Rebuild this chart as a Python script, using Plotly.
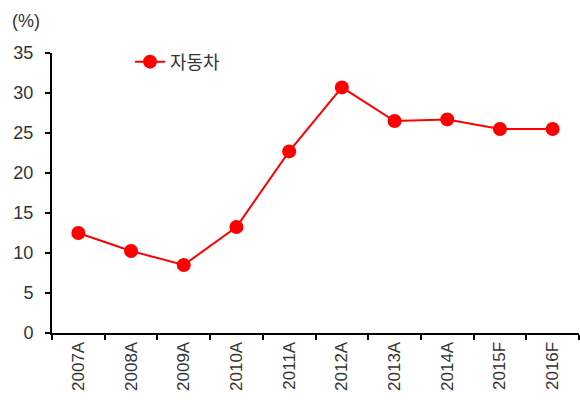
import plotly.graph_objects as go

categories = ["2007A", "2008A", "2009A", "2010A", "2011A", "2012A", "2013A", "2014A", "2015F", "2016F"]
values = [12.5, 10.25, 8.5, 13.25, 22.7, 30.7, 26.5, 26.7, 25.5, 25.5]
series_name = "자동차"

FONT = "Liberation Sans, Noto Sans CJK KR, sans-serif"

fig = go.Figure()
fig.add_trace(go.Scatter(
    x=categories, y=values, name=series_name, mode="lines+markers",
    line=dict(color="#FF0000", width=2),
    marker=dict(color="#FF0000", size=14),
))

fig.update_layout(
    width=580, height=400,
    margin=dict(l=52, r=1, t=53, b=67),
    paper_bgcolor="white", plot_bgcolor="white",
    font=dict(family=FONT, size=17, color="#333333"),
    showlegend=True,
    legend=dict(x=0.148, y=0.968, xanchor="left", yanchor="middle",
                bgcolor="rgba(0,0,0,0)", font=dict(size=18, color="#333333")),
    xaxis=dict(
        type="category", range=[-0.5, len(categories) - 0.5],
        showline=True, linecolor="black", linewidth=2,
        ticks="outside", ticklen=5, tickcolor="black", tickwidth=1.5,
        tickson="boundaries", tickangle=-90, showgrid=False, automargin=False,
        tickfont=dict(size=17, color="#333333"),
    ),
    yaxis=dict(
        range=[0, 35], dtick=5, showline=True, linecolor="black", linewidth=2,
        ticks="outside", ticklen=5, tickcolor="black", tickwidth=1.5,
        showgrid=False, zeroline=False, automargin=False, ticklabelstandoff=8,
        tickfont=dict(size=18, color="#333333"),
    ),
    annotations=[dict(
        text="(%)", xref="paper", yref="paper", x=-0.08, y=1.115,
        xanchor="left", yanchor="middle", showarrow=False,
        font=dict(size=18, color="#333333"),
    )],
)

fig.write_html("out.html", config={"displayModeBar": False},
               post_script="document.body.style.margin='0';document.body.style.padding='0';")
